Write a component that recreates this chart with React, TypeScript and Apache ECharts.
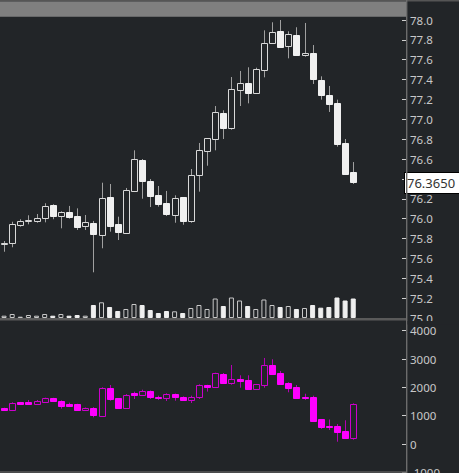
import React, { useEffect, useRef } from 'react';
import * as echarts from 'echarts';

// ---- price candles (upper panel) ----
const priceOpen = [75.745, 75.752, 75.933, 75.98, 75.98, 76.004, 76.138, 76.03, 76.064, 76.027, 75.926, 75.959, 75.839, 76.221, 75.943, 75.856, 76.282, 76.591, 76.376, 76.235, 76.155, 76.04, 76.215, 75.974, 76.437, 76.678, 76.805, 77.064, 76.916, 77.298, 77.369, 77.268, 77.494, 77.766, 77.892, 77.741, 77.846, 77.645, 77.671, 77.399, 77.245, 77.161, 76.765, 76.467];
const priceHigh = [75.775, 75.969, 75.994, 76.034, 76.047, 76.155, 76.145, 76.074, 76.128, 76.104, 76.037, 75.977, 76.362, 76.349, 76.02, 76.309, 76.688, 76.6, 76.399, 76.329, 76.279, 76.235, 76.215, 76.5, 76.762, 76.812, 77.134, 77.091, 77.426, 77.487, 77.524, 77.52, 77.896, 77.977, 78.0, 77.886, 77.927, 77.97, 77.748, 77.433, 77.336, 77.198, 76.802, 76.57];
const priceLow = [75.667, 75.712, 75.919, 75.943, 75.959, 75.963, 75.994, 75.903, 76.0, 75.886, 75.886, 75.46, 75.702, 75.869, 75.785, 75.846, 76.268, 76.201, 76.117, 76.121, 76.027, 75.959, 75.939, 75.959, 76.272, 76.533, 76.688, 76.802, 76.896, 77.134, 77.161, 77.255, 77.423, 77.76, 77.725, 77.614, 77.64, 77.631, 77.356, 77.198, 77.074, 76.725, 76.447, 76.349];
const priceClose = [75.755, 75.943, 75.977, 75.988, 76.007, 76.131, 76.03, 76.064, 76.02, 75.916, 75.963, 75.843, 76.208, 75.923, 75.866, 76.289, 76.598, 76.379, 76.231, 76.145, 76.047, 76.208, 75.977, 76.443, 76.691, 76.809, 77.071, 76.916, 77.302, 77.369, 77.262, 77.507, 77.766, 77.882, 77.731, 77.856, 77.645, 77.671, 77.406, 77.242, 77.154, 76.755, 76.453, 76.365];
const volume = [230, 400, 130, 300, 230, 400, 230, 400, 230, 300, 230, 1300, 1570, 1100, 700, 900, 1400, 1300, 800, 500, 700, 670, 500, 1000, 1300, 900, 1950, 1200, 2050, 1750, 1200, 900, 1850, 1300, 1100, 1200, 900, 1000, 1300, 1030, 1100, 2050, 1750, 1950];
const lastPrice = 76.365;

// ---- indicator candles (lower panel) ----
const indOpen = [1270, 1211, 1482, 1482, 1423, 1482, 1613, 1528, 1412, 1412, 1204, 1288, 999, 1987, 1613, 1274, 1790, 1740, 1881, 1670, 1613, 1775, 1670, 1553, 1659, 2080, 2023, 2482, 2142, 2280, 2248, 1930, 2093, 2778, 2496, 2153, 2001, 1650, 1670, 865, 640, 625, 448, 212];
const indHigh = [1280, 1472, 1485, 1553, 1553, 1635, 1630, 1540, 1458, 1420, 1290, 1300, 2001, 2083, 1620, 1760, 1846, 1917, 1890, 1705, 1790, 1780, 1680, 1705, 2107, 2090, 2517, 2506, 2789, 2425, 2425, 2120, 3036, 2990, 2577, 2178, 2083, 1775, 1705, 880, 865, 706, 837, 1436];
const indLow = [1200, 1205, 1420, 1405, 1400, 1447, 1500, 1246, 1340, 1200, 1200, 942, 964, 1528, 1270, 1270, 1588, 1705, 1588, 1557, 1518, 1528, 1518, 1447, 1588, 1850, 2010, 2128, 2093, 1987, 1920, 1920, 1987, 2460, 2110, 1825, 1600, 1557, 810, 533, 494, 81, 200, 152];
const indClose = [1210, 1437, 1423, 1412, 1518, 1613, 1506, 1341, 1352, 1211, 1288, 1013, 1966, 1578, 1281, 1747, 1740, 1860, 1659, 1620, 1775, 1648, 1542, 1670, 2072, 2020, 2496, 2153, 2284, 2230, 1930, 2107, 2778, 2471, 2121, 1987, 1613, 1610, 822, 586, 590, 424, 212, 1412];

// axis scales
const priceAxis = { min: 75.0, max: 78.0, step: 0.2 };
const indAxis = { min: -1000, max: 4000, step: 1000 };
const volumeAxisMax = 29800;
const slotCount = 50;

const BG = '#222528';

const categories = Array.from({ length: slotCount }, (_, i) => String(i + 1));

function candleRenderer(cfg: { wick: string; hollow: string; fill: string }) {
  return (params: any, api: any) => {
    const i = api.value(0);
    const o = api.value(1);
    const c = api.value(2);
    const l = api.value(3);
    const h = api.value(4);
    const pO = api.coord([i, o]);
    const pC = api.coord([i, c]);
    const pL = api.coord([i, l]);
    const pH = api.coord([i, h]);
    const cx = Math.round(pO[0]) + 0.5;
    const up = c >= o;
    let top = Math.round(Math.min(pO[1], pC[1])) + 0.5;
    let bot = Math.round(Math.max(pO[1], pC[1])) + 0.5;
    if (bot - top < 1) bot = top + 1;
    const hw = 3;
    return {
      type: 'group',
      children: [
        {
          type: 'line',
          shape: { x1: cx, y1: pH[1], x2: cx, y2: pL[1] },
          style: { stroke: cfg.wick, lineWidth: 1 },
        },
        {
          type: 'rect',
          shape: { x: cx - hw, y: top, width: hw * 2, height: bot - top },
          style: { fill: up ? BG : cfg.fill, stroke: up ? cfg.hollow : cfg.fill, lineWidth: 1 },
        },
      ],
    };
  };
}

export default function App() {
  const ref = useRef<HTMLDivElement>(null);
  useEffect(() => {
    if (!ref.current) return;
    const chart = echarts.init(ref.current, undefined, { renderer: 'svg' });

    const priceRows = priceOpen.map((o, i) => [i, o, priceClose[i], priceLow[i], priceHigh[i]]);
    const indRows = indOpen.map((o, i) => [i, o, indClose[i], indLow[i], indHigh[i]]);
    const volData = volume.map((v, i) => {
      const up = priceClose[i] >= priceOpen[i];
      return {
        value: v,
        itemStyle: up
          ? { color: BG, borderColor: '#c8c8c8', borderWidth: 1 }
          : { color: '#efefef', borderColor: '#efefef', borderWidth: 1 },
      };
    });

    const labelStyle = { color: '#c8c8c8', fontFamily: 'Noto Sans', fontSize: 11.5, margin: 4 };
    const tickStyle = { show: true, inside: true, length: 4, lineStyle: { color: '#cfcfcf', width: 1 } };

    chart.setOption({
      animation: false,
      backgroundColor: BG,
      grid: [
        { left: 0, top: 20, width: 406, height: 298, outerBoundsMode: 'none', containLabel: false },
        { left: 0, top: 330.67, width: 406, height: 141.67, outerBoundsMode: 'none', containLabel: false },
      ],
      xAxis: [
        { gridIndex: 0, type: 'category', data: categories, show: false, boundaryGap: true },
        { gridIndex: 1, type: 'category', data: categories, show: false, boundaryGap: true },
      ],
      yAxis: [
        {
          gridIndex: 0,
          type: 'value',
          position: 'right',
          min: priceAxis.min,
          max: priceAxis.max,
          interval: priceAxis.step,
          axisLine: { show: false },
          axisTick: tickStyle,
          splitLine: { show: false },
          axisLabel: { ...labelStyle, formatter: (v: number) => v.toFixed(1) },
        },
        { gridIndex: 0, type: 'value', min: 0, max: volumeAxisMax, show: false, splitLine: { show: false } },
        {
          gridIndex: 1,
          type: 'value',
          position: 'right',
          min: indAxis.min,
          max: indAxis.max,
          interval: indAxis.step,
          axisLine: { show: false },
          axisTick: tickStyle,
          splitLine: { show: false },
          axisLabel: { ...labelStyle, formatter: (v: number) => String(v) },
        },
      ],
      series: [
        {
          type: 'bar',
          xAxisIndex: 0,
          yAxisIndex: 1,
          barWidth: 5,
          data: volData,
          silent: true,
          z: 1,
        },
        {
          type: 'custom',
          xAxisIndex: 0,
          yAxisIndex: 0,
          data: priceRows,
          encode: { x: 0, y: [1, 2, 3, 4] },
          renderItem: candleRenderer({ wick: '#a0a0a0', hollow: '#d8d8d8', fill: '#f0f0f0' }),
          silent: true,
          z: 3,
        },
        {
          type: 'line',
          xAxisIndex: 0,
          yAxisIndex: 0,
          data: priceClose,
          showSymbol: false,
          symbol: 'none',
          lineStyle: { opacity: 0 },
          silent: true,
          z: 10,
          markLine: {
            silent: true,
            z: 10,
            symbol: ['none', 'none'],
            lineStyle: { color: 'rgba(0,0,0,0)', width: 1, type: 'solid' },
            label: {
              show: true,
              position: 'end',
              distance: -1,
              formatter: () => lastPrice.toFixed(4),
              color: '#333333',
              backgroundColor: '#ffffff',
              borderColor: '#000000',
              borderWidth: 1,
              padding: [4, 4, 3, 2],
              fontFamily: 'Noto Sans',
              fontSize: 13,
            },
            data: [{ yAxis: lastPrice }],
          },
        },
        {
          type: 'custom',
          xAxisIndex: 1,
          yAxisIndex: 2,
          data: indRows,
          encode: { x: 0, y: [1, 2, 3, 4] },
          renderItem: candleRenderer({ wick: '#b400b4', hollow: '#cc00cc', fill: '#ff00ff' }),
          silent: true,
          z: 3,
        },
      ],
      graphic: [
        { type: 'rect', z: 100, silent: true, shape: { x: 0, y: 0, width: 459, height: 1.5 }, style: { fill: '#555555' } },
        { type: 'rect', z: 100, silent: true, shape: { x: 0, y: 1.5, width: 406, height: 15.2 }, style: { fill: '#7f7f7f' } },
        { type: 'rect', z: 100, silent: true, shape: { x: 406, y: 0, width: 1.4, height: 473 }, style: { fill: '#6c6c6c' } },
        { type: 'rect', z: 100, silent: true, shape: { x: 0, y: 318, width: 406, height: 2.5 }, style: { fill: '#5a5a5a' } },
        { type: 'rect', z: 100, silent: true, shape: { x: 0, y: 471.3, width: 406, height: 1.5 }, style: { fill: '#5a5a5a' } },
        { type: 'rect', z: 100, silent: true, shape: { x: 407.5, y: 321, width: 52, height: 3.5 }, style: { fill: BG } },
      ],
    });
    return () => chart.dispose();
  }, []);
  return (
    <div
      ref={ref}
      style={{ position: 'fixed', left: 0, top: 0, width: 459, height: 473 }}
    />
  );
}
